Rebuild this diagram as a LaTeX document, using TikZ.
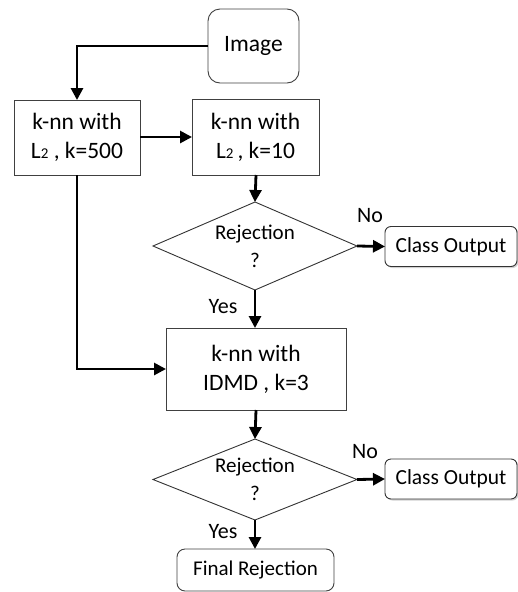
\documentclass[tikz,border=0pt]{standalone}
\usepackage{fontspec}
\setmainfont{Carlito}
\usetikzlibrary{shapes.geometric,arrows.meta,shadows}
\begin{document}
\begin{tikzpicture}[x=1pt,y=-1pt,
  every node/.style={inner sep=0pt,outer sep=0pt,align=center},
  procbox/.style={draw=black!75,line width=0.9pt,fill=white,font=\fontsize{23.5}{29}\selectfont},
  roundbox/.style={procbox,rounded corners=12pt},
  outbox/.style={draw=black!80,line width=0.9pt,fill=white,rounded corners=6pt,
     font=\fontsize{21.5}{26}\selectfont,
     drop shadow={shadow xshift=1.5pt,shadow yshift=-1.5pt,fill=black!30,opacity=0.6}},
  decision/.style={diamond,draw=black!80,line width=0.9pt,fill=white},
  dtext/.style={font=\fontsize{21}{28}\selectfont,align=center},
  lbl/.style={font=\fontsize{22}{26}\selectfont},
  flow/.style={line width=2.8pt,-{Triangle[length=12pt,width=12pt]}}]
\useasboundingbox (0,0) rectangle (518,592);
\newcommand{\subtwo}{{\fontsize{15}{15}\selectfont 2}}
\node[roundbox,minimum width=91pt,minimum height=74pt] (img) at (253.5,46) {Image};
\node[procbox,minimum width=126pt,minimum height=75pt] (b1) at (77,137.5) {k-nn with\\L\subtwo\ , k=500};
\node[procbox,minimum width=127pt,minimum height=76pt] (b2) at (255.5,137) {k-nn with\\L\subtwo\,, k=10};
\node[decision,minimum width=204pt,minimum height=88pt,label={[dtext]center:{Rejection\\?}}] (d1) at (255,246) {};
\node[outbox,minimum width=132pt,minimum height=40pt] (c1) at (451,246.5) {Class Output};
\node[procbox,minimum width=180pt,minimum height=82pt] (b3) at (256,369) {k-nn with\\IDMD , k=3};
\node[decision,minimum width=204pt,minimum height=81pt,label={[dtext]center:{Rejection\\?}}] (d2) at (255,479.5) {};
\node[outbox,minimum width=132pt,minimum height=40pt] (c2) at (451,479) {Class Output};
\node[roundbox,rounded corners=8pt,minimum width=157pt,minimum height=42pt,font=\fontsize{21}{26}\selectfont] (fr) at (255.5,570) {Final Rejection};
\node[lbl] (no1) at (370,216) {No};
\node[lbl] (yes1) at (223,307) {Yes};
\node[lbl] (no2) at (365,452) {No};
\node[lbl] (yes2) at (223,532) {Yes};
\draw[flow] (img.west) -| (b1.north);
\draw[flow] (b1.east |- 0,137) -- (b2.west |- 0,137);
\draw[flow] (b2.south -| 256,0) -- (d1.north);
\draw[flow] (d1.east) -- (c1.west);
\draw[flow] (d1.south) -- (b3.north -| d1.south);
\draw[flow] (b1.south) |- (b3.west);
\draw[flow] (b3.south -| 256,0) -- (d2.north);
\draw[flow] (d2.east) -- (c2.west);
\draw[flow] (d2.south) -- (fr.north -| d2.south);
\end{tikzpicture}
\end{document}
